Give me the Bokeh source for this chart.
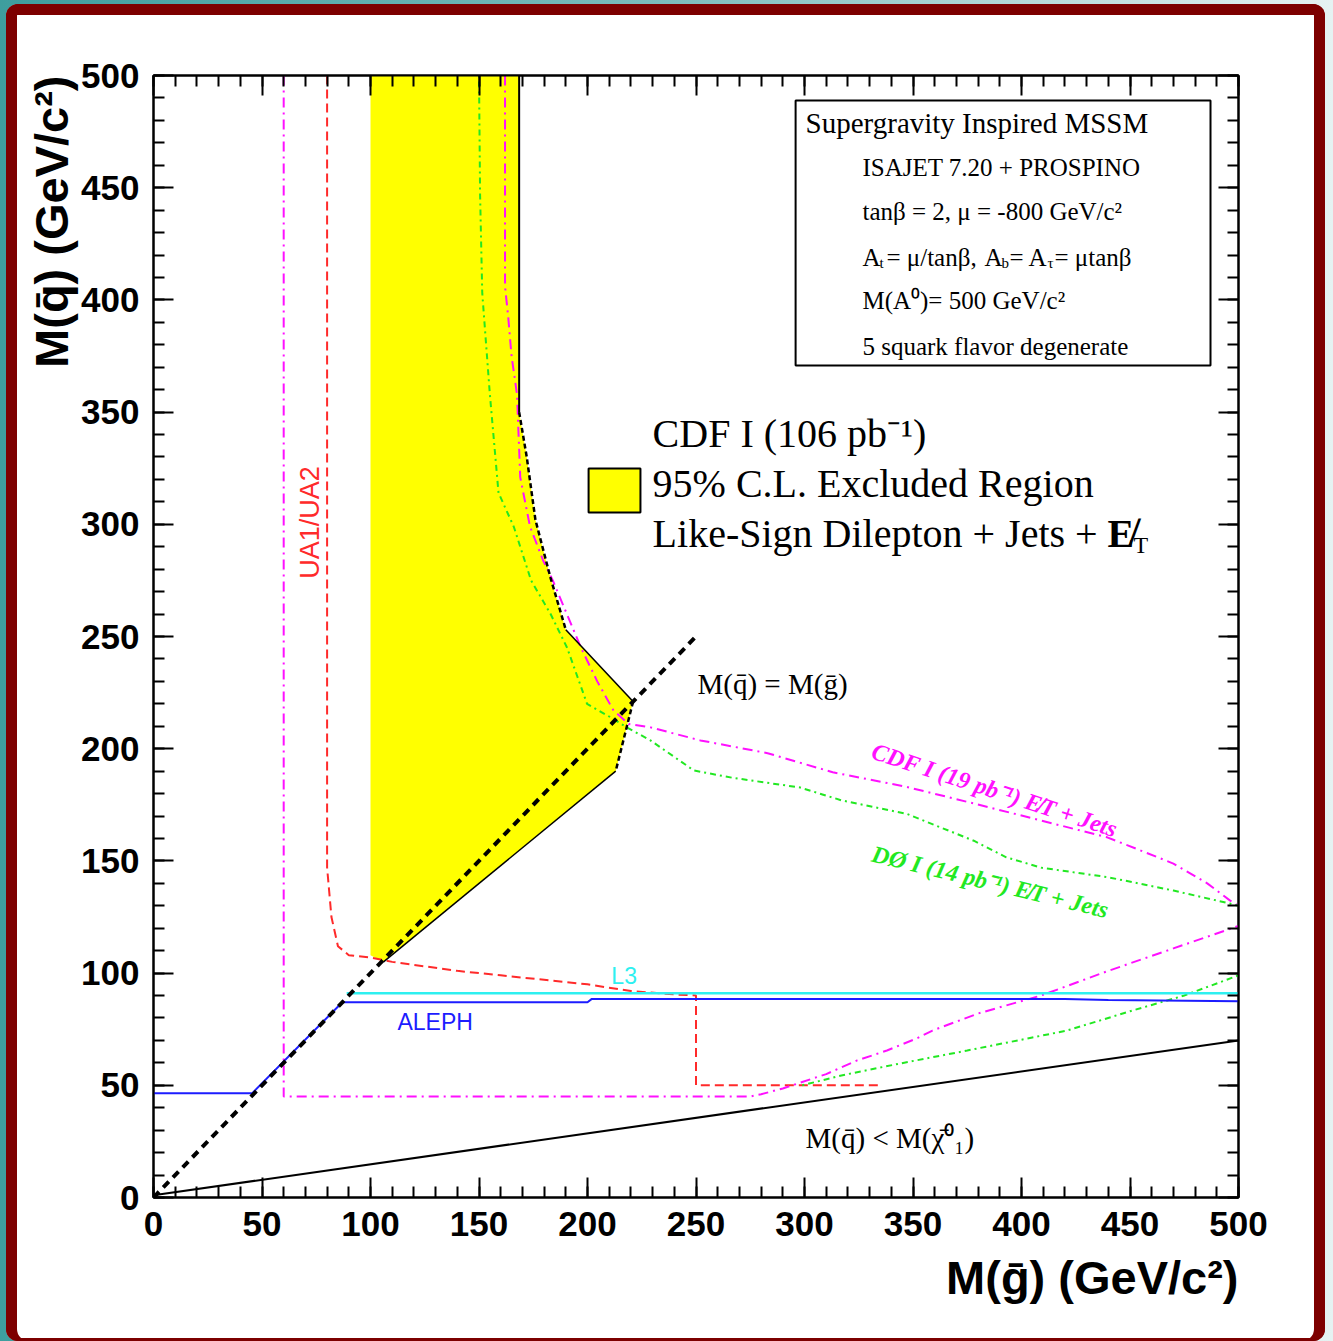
import math
from bokeh.plotting import figure
from bokeh.layouts import column
from bokeh.models import (Range1d, LinearAxis, SingleIntervalTicker, Title,
                          CustomJSTickFormatter)
from bokeh.core.properties import value
from bokeh.embed import file_html
from bokeh.resources import INLINE

# ---------------- data (GeV/c^2) ----------------
excl_x = [100, 168.5, 168.5, 172, 176, 183, 190, 221, 213, 106, 100]
excl_y = [500, 500, 350, 330, 302, 276, 253, 221, 190, 105, 108]

edge_solid1_x = [168.5, 168.5]
edge_solid1_y = [500, 350]
edge_dash1_x = [168.5, 172, 176, 183, 190]
edge_dash1_y = [350, 330, 302, 276, 253]
edge_solid2_x = [190, 221]
edge_solid2_y = [253, 221]
edge_dash2_x = [221, 213]
edge_dash2_y = [221, 190]
edge_solid3_x = [213, 106]
edge_solid3_y = [190, 105]

ua_x = [80, 80, 82, 85, 90, 100, 110, 125, 140, 160, 180, 200, 220, 240, 250, 250, 335]
ua_y = [500, 147, 125, 112, 108, 107, 105, 103, 101, 99, 97, 95, 92, 90.5, 90, 50, 50]

cdf19_up_x = [162, 162, 163.5, 165, 167.5, 169, 173.5, 179.5, 184, 190.5, 197, 204.5, 212, 219,
              229, 252, 283, 313, 347, 378, 409, 439.5, 455, 470, 485.6, 496, 500]
cdf19_up_y = [500, 406, 392, 375, 358, 321, 299, 284, 275, 260, 245, 230, 217, 211,
              209.5, 203.7, 198, 189.5, 183, 175.6, 168, 160.5, 154.6, 148.8, 140, 132.4, 130]
cdf19_lo_x = [60, 60, 275, 280, 290, 310, 324, 338, 352, 359, 380, 409, 440, 470, 500]
cdf19_lo_y = [500, 45, 45, 46, 48.6, 55, 61, 65.5, 71, 74.4, 82, 90, 101, 111, 121]

d0_up_x = [150, 150.5, 151.5, 155, 159, 166, 174, 183, 190.6, 199.8, 210.6, 218.3, 229, 249,
           267, 298, 317, 347, 378, 393, 409, 439.5, 470, 496, 500]
d0_up_y = [500, 447, 403, 358, 314, 299, 275, 260, 245, 220, 214, 209.4, 203.7, 190.3,
           187, 182.7, 177, 171, 159, 151.6, 147, 142.8, 136.8, 131, 130]
d0_lo_x = [299, 317, 344, 375, 405, 421, 450, 475, 500]
d0_lo_y = [50, 54.4, 59.7, 65.5, 71.3, 74.4, 83, 90, 99]

aleph_x = [0, 45.5, 87, 200, 202, 420, 440, 500]
aleph_y = [46.5, 46.5, 87, 87, 88.5, 88.5, 88, 87.5]

l3_x = [89, 500]
l3_y = [91, 91]

diag_x = [0, 250]
diag_y = [0, 250]

lsp_x = [0, 500]
lsp_y = [1, 70]

x_ticks_interval = 50
y_ticks_interval = 50

# ---------------- figure ----------------
p = figure(frame_width=1085, frame_height=1122,
           x_range=Range1d(0, 500), y_range=Range1d(0, 500),
           output_backend="svg", toolbar_location=None,
           min_border_left=147, min_border_right=87,
           min_border_top=71, min_border_bottom=144,
           x_axis_type=None, y_axis_type=None)
p.grid.visible = False
p.background_fill_color = "white"
p.border_fill_color = None
p.outline_line_color = "black"
p.outline_line_width = 2
p.styles = {
    "background-color": "white",
    "border-radius": "12px",
    "box-shadow": ("inset 11px 0 0 0 #7d0000, inset -11px 0 0 0 #7d0000, "
                   "inset 0 11px 0 0 #7d0000, inset 0 -3px 0 0 #7d0000"),
}

def make_axis(labels=True, interval=50):
    ax = LinearAxis(ticker=SingleIntervalTicker(interval=interval, num_minor_ticks=5))
    ax.major_tick_in = 20
    ax.major_tick_out = 0
    ax.minor_tick_in = 11
    ax.minor_tick_out = 0
    ax.axis_line_width = 2
    ax.major_tick_line_width = 2
    ax.minor_tick_line_width = 2
    ax.axis_line_color = "black"
    if labels:
        ax.major_label_text_font = "Liberation Sans"
        ax.major_label_text_font_style = "bold"
        ax.major_label_text_font_size = "35px"
        ax.major_label_text_color = "black"
    else:
        ax.formatter = CustomJSTickFormatter(code="return ''")
        ax.major_label_text_font_size = "1px"
        ax.major_label_standoff = 0
    return ax

xb = make_axis(True, x_ticks_interval)
xb.major_label_standoff = 14
p.add_layout(xb, "below")
yl = make_axis(True, y_ticks_interval)
yl.major_label_standoff = 14
p.add_layout(yl, "left")
p.add_layout(make_axis(False, x_ticks_interval), "above")
p.add_layout(make_axis(False, y_ticks_interval), "right")

# axis titles
p.add_layout(Title(text="M(q̄) (GeV/c²)", align="right", standoff=2,
                   text_font="Liberation Sans", text_font_style="bold",
                   text_font_size="47px", text_color="black"), "left")
p.add_layout(Title(text="M(ḡ) (GeV/c²)", align="right", standoff=20,
                   text_font="Liberation Sans", text_font_style="bold",
                   text_font_size="47px", text_color="black"), "below")

# ---------------- glyphs ----------------
p.patch(excl_x, excl_y, fill_color="#ffff00", line_color=None)

p.line(ua_x, ua_y, line_color="#ff2a2a", line_width=2, line_dash="9 5")
p.line(cdf19_lo_x, cdf19_lo_y, line_color="#ff10ff", line_width=2, line_dash="10 5 2 5")
p.line(cdf19_up_x, cdf19_up_y, line_color="#ff10ff", line_width=2, line_dash="10 5 2 5")
p.line(d0_up_x, d0_up_y, line_color="#22e822", line_width=2, line_dash="2 4 6 4")
p.line(d0_lo_x, d0_lo_y, line_color="#22e822", line_width=2, line_dash="2 4 6 4")

p.line(edge_solid1_x, edge_solid1_y, line_color="black", line_width=2)
p.line(edge_dash1_x, edge_dash1_y, line_color="black", line_width=2.5, line_dash="5 3")
p.line(edge_solid2_x, edge_solid2_y, line_color="black", line_width=1.5)
p.line(edge_dash2_x, edge_dash2_y, line_color="black", line_width=2.5, line_dash="5 3")
p.line(edge_solid3_x, edge_solid3_y, line_color="black", line_width=1.5)

p.line(l3_x, l3_y, line_color="#2ef0f0", line_width=2.5)
p.line(aleph_x, aleph_y, line_color="#1c1cff", line_width=2)
p.line(lsp_x, lsp_y, line_color="black", line_width=2)
p.line(diag_x, diag_y, line_color="black", line_width=4, line_dash="8 6")

# legend square and info box
p.quad(left=200.5, right=224.4, top=324.9, bottom=305.3,
       fill_color="#ffff00", line_color="black", line_width=2)
p.quad(left=295.9, right=487.1, top=488.9, bottom=370.8,
       fill_color="white", line_color="black", line_width=2)

serif = value("Liberation Serif")
sans = value("Liberation Sans")

def txt(x, y, s, size, color="black", font=serif, align="left", baseline="middle",
        angle=0.0, style="normal", xo=0, yo=0):
    p.text(x=[x], y=[y], text=[s], text_font=font, text_font_size=size,
           text_color=color, text_align=align, text_baseline=baseline,
           angle=angle, text_font_style=style, x_offset=xo, y_offset=yo)

# info box texts
txt(300.5, 479.0, "Supergravity Inspired MSSM", "29px")
txt(326.7, 459.0, "ISAJET 7.20 + PROSPINO", "25px")
txt(326.7, 439.4, "tanβ = 2, μ = -800 GeV/c²", "25px")
txt(326.7, 418.9, "A", "25px")
txt(326.7, 418.9, "t", "15px", xo=17, yo=6)
txt(326.7, 418.9, "= μ/tanβ,", "25px", xo=24)
txt(326.7, 418.9, "A", "25px", xo=122)
txt(326.7, 418.9, "b", "15px", xo=139, yo=6)
txt(326.7, 418.9, "= A", "25px", xo=147)
txt(326.7, 418.9, "τ", "15px", xo=185, yo=6)
txt(326.7, 418.9, "= μtanβ", "25px", xo=192)
txt(326.7, 399.7, "M(A⁰)= 500 GeV/c²", "25px")
txt(326.7, 379.2, "5 squark flavor degenerate", "25px")

# legend texts
txt(230.0, 340.5, "CDF I (106 pb⁻¹)", "40px")
txt(230.0, 318.2, "95% C.L. Excluded Region", "40px")
txt(230.0, 295.9, "Like-Sign Dilepton + Jets +", "40px")
txt(230.0, 295.9, "E̸", "40px", style="bold", xo=455)
txt(230.0, 295.9, "T", "24px", xo=481, yo=11)

# curve labels
txt(250.7, 229.0, "M(q̄) = M(ḡ)", "29px")
txt(300.5, 26.3, "M(q̄) < M(χ̄⁰₁)", "29px")
txt(112.4, 78.4, "ALEPH", "23px", color="#1c1cff", font=sans)
txt(211.0, 98.5, "L3", "23px", color="#2ef0f0", font=sans)
txt(72.3, 300.8, "UA1/UA2", "27px", color="#ff2a2a", font=sans, align="center",
    angle=math.pi / 2)
txt(331.3, 199.2, "CDF I (19 pb⁻¹) E̸T + Jets", "24px", color="#ff10ff",
    style="bold italic", angle=-0.314)
txt(331.3, 153.3, "DØ I (14 pb⁻¹) E̸T + Jets", "24px", color="#22e822",
    style="bold italic", angle=-0.237)

page = column(p, styles={
    "padding": "4px 8px 0px 6px",
    "background": "linear-gradient(to right, #3e9e9e, #7cbcbc 50%, #e6f2f2)",
})

open("out.html", "w").write(file_html(page, INLINE))
